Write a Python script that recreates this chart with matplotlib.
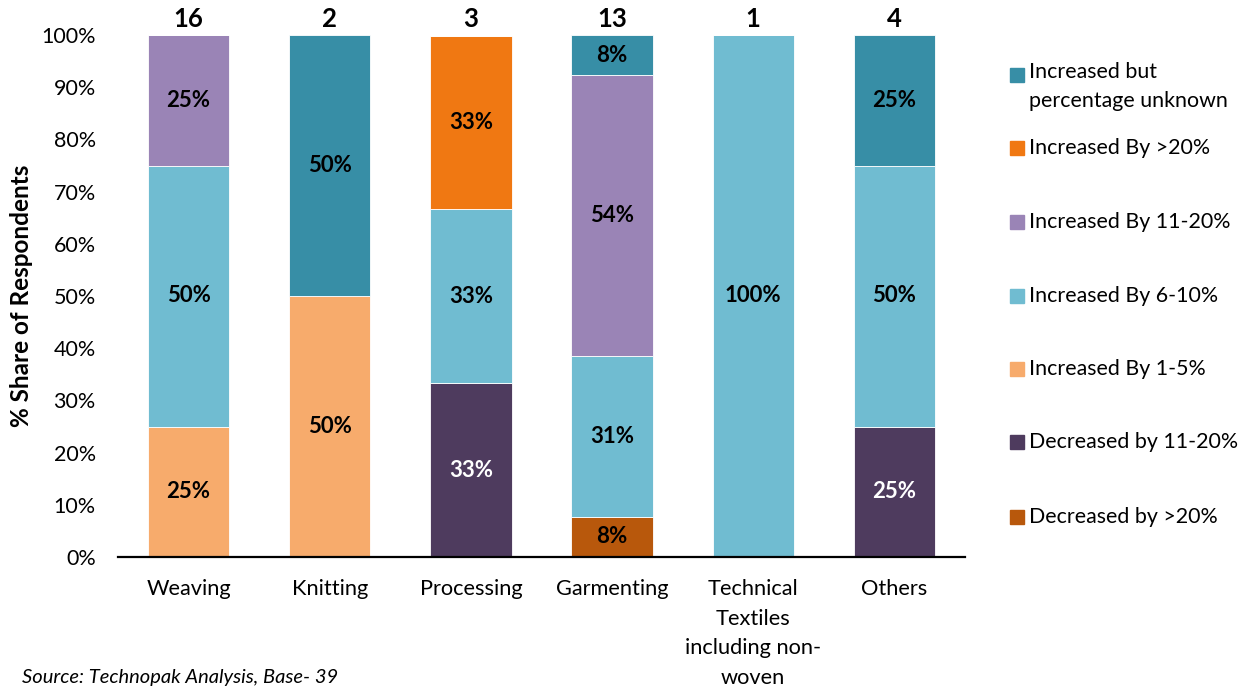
import numpy as np
import matplotlib.pyplot as plt
from matplotlib.patches import Rectangle

plt.rcParams['font.family'] = ['Lato', 'DejaVu Sans']

categories = ['Weaving', 'Knitting', 'Processing', 'Garmenting',
              'Technical\nTextiles\nincluding non-\nwoven', 'Others']
respondents = [16, 2, 3, 13, 1, 4]

# stacked bottom -> top
series = ['Decreased by >20%', 'Decreased by 11-20%', 'Increased By 1-5%',
          'Increased By 6-10%', 'Increased By 11-20%', 'Increased By >20%',
          'Increased but\npercentage unknown']
values = {
    'Decreased by >20%':   [0, 0, 0, 7.7, 0, 0],
    'Decreased by 11-20%': [0, 0, 33.3, 0, 0, 25],
    'Increased By 1-5%':   [25, 50, 0, 0, 0, 0],
    'Increased By 6-10%':  [50, 0, 33.3, 30.8, 100, 50],
    'Increased By 11-20%': [25, 0, 0, 53.8, 0, 0],
    'Increased By >20%':   [0, 0, 33.3, 0, 0, 0],
    'Increased but\npercentage unknown': [0, 50, 0, 7.7, 0, 25],
}
colors = ['#B8580C', '#4E3B5E', '#F7AB6C', '#70BCD1', '#9A84B6', '#F07812', '#378EA6']
label_colors = ['black', 'white', 'black', 'black', 'black', 'black', 'black']

fig = plt.figure(figsize=(12.47, 6.88), dpi=100)
ax = fig.add_axes([118 / 1247, 1 - 557 / 688, (965 - 118) / 1247, (557 - 35) / 688])

x = np.arange(len(categories))
bottom = np.zeros(len(categories))
for name, col, lc in zip(series, colors, label_colors):
    v = np.array(values[name], dtype=float)
    ax.bar(x, v, 0.575, bottom=bottom, color=col, edgecolor='white', linewidth=0.6)
    for xi, vi, bi in zip(x, v, bottom):
        if vi > 0:
            ax.text(xi, bi + vi / 2, f'{vi:.0f}%', ha='center', va='center',
                    fontsize=16, fontweight='bold', color=lc)
    bottom += v

for xi, n in zip(x, respondents):
    ax.text(xi, 100.8, str(n), ha='center', va='bottom', fontsize=18.5, fontweight='bold')

ax.set_xlim(-0.5, 5.5)
ax.set_ylim(0, 100)
ax.set_yticks(np.arange(0, 101, 10))
ax.set_yticklabels([f'{t}%' for t in range(0, 101, 10)], fontsize=15.5)
ax.set_xticks(x)
ax.set_xticklabels(categories, fontsize=15.7, linespacing=1.6, va='top')
ax.tick_params(axis='both', length=0)
ax.tick_params(axis='x', pad=16)
ax.tick_params(axis='y', pad=16)
for s in ['top', 'right', 'left']:
    ax.spines[s].set_visible(False)
ax.spines['bottom'].set_linewidth(1.6)
ax.set_ylabel('% Share of Respondents', fontsize=17.5, fontweight='bold')
ax.yaxis.set_label_coords(-0.100, 0.5)

# legend, top entry first
leg_y = [75, 148, 222, 296, 369, 442, 517]
for yy, name, col in zip(leg_y, series[::-1], colors[::-1]):
    fig.patches.append(Rectangle((1010 / 1247, 1 - (yy + 7) / 688), 14 / 1247, 14 / 688,
                                 transform=fig.transFigure, color=col))
    if '\n' in name:
        fig.text(1029 / 1247, 1 - (yy - 13) / 688, name, fontsize=15.4, va='top', linespacing=1.55)
    else:
        fig.text(1029 / 1247, 1 - yy / 688, name, fontsize=15.4, va='center')

fig.text(22 / 1247, 1 - 686 / 688, 'Source: Technopak Analysis, Base- 39', fontsize=14.5,
         style='italic', va='bottom')

fig.savefig('out.png', dpi=100)
